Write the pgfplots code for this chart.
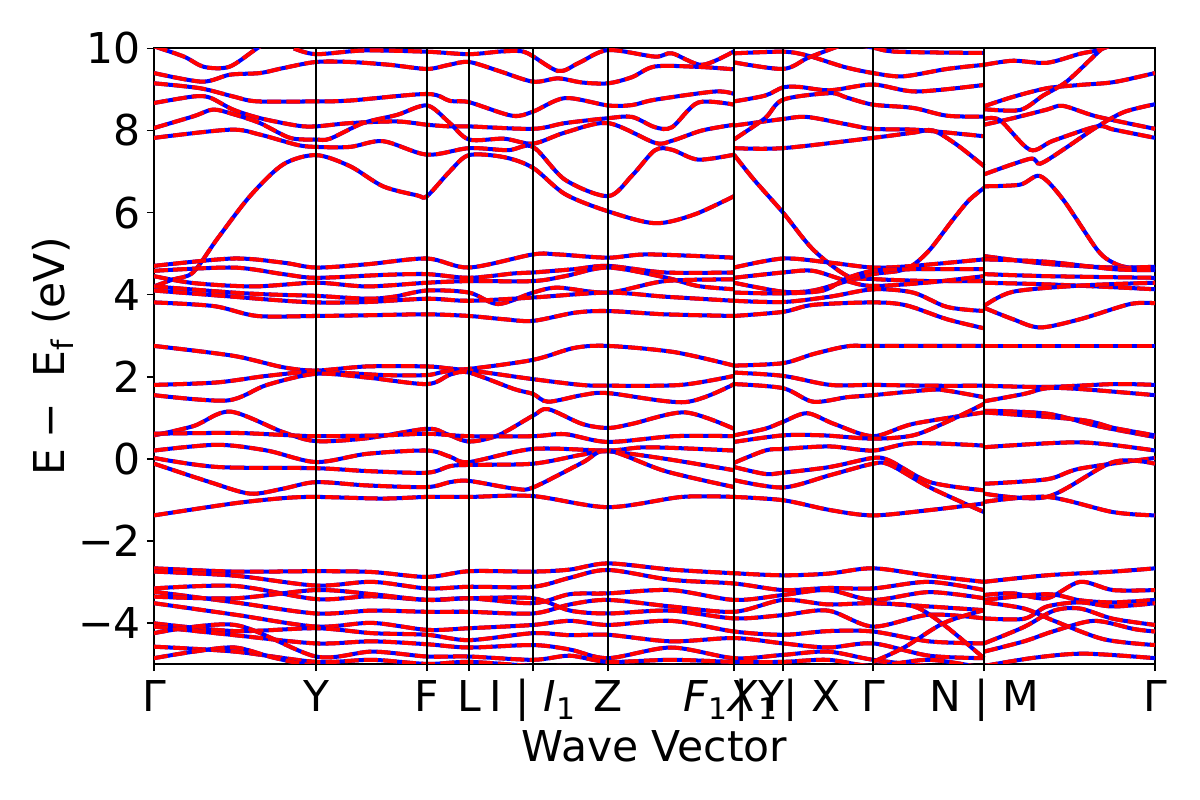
\documentclass[border=0pt]{standalone}
\usepackage{fontspec}
\setmainfont{DejaVu Sans}
\usepackage{pgfplots}
\pgfplotsset{compat=1.18}
\newcommand{\B}[1]{%
\addplot[blue, line width=1.45pt, smooth, tension=0.5] coordinates {#1};%
\addplot[red, line width=1.45pt, smooth, tension=0.5, dash pattern=on 5pt off 1.9pt] coordinates {#1};%
}
\begin{document}
\begin{tikzpicture}
\begin{axis}[
 scale only axis, width=360.4pt, height=221.6pt,
 xmin=0, xmax=1001, ymin=-5, ymax=10,
 xtick={0,162,273,315,379,454,580,629,719,830,1001},
 xticklabels={Γ, Y, F, L, I | \textit{I}\textsubscript{1}, Z,
   {\makebox[0pt][l]{\hspace*{-18.3pt}\textit{F}\textsubscript{1}\textit{X}\textsubscript{1}}\makebox[0pt][l]{\hspace*{0.3pt}|}},
   {\makebox[0pt][l]{\hspace*{-9pt}Y|\ X}}, Γ, N | M, Γ},
 ytick={-4,-2,0,2,4,6,8,10}, yticklabels={−4,−2,0,2,4,6,8,10},
 tick align=outside, xtick pos=bottom, ytick pos=left,
 major tick length=2.6pt, tick style={black, line width=0.6pt},
 axis line style={line width=0.7pt},
 ticklabel style={font=\fontsize{15.3}{18}\selectfont},
 xticklabel style={text height=11.2pt, text depth=3.5pt, inner ysep=3pt},
 yticklabel style={inner xsep=2pt},
 xlabel={Wave Vector}, ylabel={E\hspace{0.25em}−\hspace{0.6em}E\textsubscript{f} (eV)},
 every axis x label/.style={at={(axis description cs:0.5,-0.159)}, anchor=base, font=\fontsize{15.3}{18}\selectfont},
 every axis y label/.style={at={(axis description cs:-0.1009,0.5)}, rotate=90, anchor=center, font=\fontsize{15.3}{18}\selectfont},
 clip=true,
]
% ---------- chunk A : Gamma - Y - F - L - I|I1 - Z - F1 ----------
\B{(0,10.05) (30,9.80) (50,9.55) (75,9.55) (100,9.95) (115,10.2)}
\B{(140,10.0) (162,9.86) (210,9.95) (273,9.92) (315,9.86) (350,9.93) (372,9.90) (404,9.45) (425,9.65) (454,9.96) (501,9.80) (518,9.88) (548,9.60) (580,9.93)}
\B{(0,9.40) (48,9.19) (76,9.36) (106,9.40) (129,9.52) (162,9.67) (196,9.67) (236,9.60) (273,9.50) (295,9.60) (315,9.67) (345,9.45) (379,9.19) (404,9.27) (428,9.17) (454,9.15) (478,9.30) (501,9.56) (545,9.55) (580,9.49)}
\B{(0,9.15) (46,9.03) (79,8.83) (103,8.71) (162,8.71) (196,8.73) (273,8.89) (296,8.72) (315,8.69) (358,8.36) (379,8.46) (411,8.79) (454,8.61) (478,8.62) (501,8.75) (561,8.95) (580,8.89)}
\B{(0,8.67) (40,8.83) (56,8.80) (79,8.51) (106,8.30) (143,8.12) (162,8.10) (196,8.18) (243,8.22) (273,8.14) (296,8.10) (315,8.10) (379,8.04) (411,8.18) (454,8.30) (478,8.33) (501,8.08) (518,8.08) (544,8.68) (580,8.63)}
\B{(0,8.06) (40,8.35) (59,8.51) (79,8.40) (106,8.18) (136,7.82) (162,7.78) (176,7.80) (209,8.18) (243,8.38) (273,8.61) (295,8.20) (315,7.78) (350,7.80) (379,7.68) (411,7.95) (454,8.18) (501,7.70) (518,7.75) (548,8.0) (580,8.14)}
\B{(0,7.82) (76,8.02) (106,7.90) (143,7.65) (162,7.60) (196,7.60) (229,7.74) (273,7.41) (315,7.57) (354,7.52) (379,7.60) (411,6.80) (454,6.40) (478,6.90) (501,7.52) (518,7.53) (544,7.29) (580,7.41)}
\B{(0,4.20) (19,4.37) (39,4.54) (63,5.35) (96,6.40) (129,7.17) (162,7.40) (196,7.13) (229,6.64) (263,6.42) (273,6.40) (296,7.01) (315,7.40) (350,7.35) (379,7.09) (411,6.45) (454,6.03) (501,5.74) (540,5.95) (580,6.40)}
\B{(0,4.70) (79,4.88) (129,4.78) (162,4.66) (213,4.74) (273,4.88) (315,4.66) (379,4.98) (404,4.98) (454,4.90) (494,4.98) (580,4.90)}
\B{(0,4.58) (79,4.66) (129,4.50) (162,4.41) (229,4.48) (273,4.50) (315,4.41) (361,4.52) (379,4.54) (420,4.62) (454,4.70) (511,4.54) (580,4.54)}
\B{(0,4.45) (40,4.28) (100,4.20) (162,4.29) (213,4.20) (273,4.29) (315,4.33) (379,4.33) (411,4.45) (454,4.66) (511,4.42) (544,4.21) (580,4.13)}
\B{(0,4.20) (79,4.05) (120,4.00) (162,3.97) (213,3.90) (240,3.95) (273,4.10) (315,4.05) (344,3.77) (379,4.05) (404,4.17) (454,4.05) (511,4.33) (580,4.37)}
\B{(0,4.10) (79,3.95) (120,3.87) (162,3.81) (213,3.82) (273,3.90) (315,3.85) (379,3.93) (454,4.05) (511,3.95) (580,3.85)}
\B{(0,3.81) (60,3.72) (103,3.48) (162,3.48) (220,3.50) (273,3.52) (315,3.48) (350,3.40) (379,3.36) (421,3.56) (454,3.60) (511,3.52) (580,3.48)}
\B{(0,2.75) (79,2.51) (129,2.23) (162,2.15) (213,2.25) (273,2.25) (296,2.20) (315,2.19) (379,2.41) (420,2.70) (454,2.75) (520,2.60) (580,2.27)}
\B{(0,1.80) (63,1.86) (113,2.02) (162,2.12) (229,2.04) (273,2.04) (290,2.12) (315,2.15) (379,1.94) (427,1.80) (454,1.78) (527,1.80) (580,2.02)}
\B{(0,1.55) (73,1.42) (113,1.80) (162,2.07) (213,1.98) (273,1.82) (296,2.05) (315,2.10) (360,1.70) (379,1.58) (394,1.39) (428,1.55) (454,1.60) (531,1.38) (580,1.82)}
\B{(0,0.57) (40,0.80) (76,1.15) (129,0.65) (162,0.43) (213,0.50) (273,0.73) (293,0.60) (315,0.42) (344,0.57) (379,1.05) (394,1.21) (428,0.85) (454,0.75) (478,0.85) (531,1.13) (580,0.73)}
\B{(0,0.61) (79,0.63) (129,0.58) (162,0.55) (229,0.57) (273,0.61) (315,0.55) (379,0.55) (411,0.60) (454,0.41) (520,0.55) (580,0.55)}
\B{(0,0.20) (63,0.34) (113,0.20) (162,-0.08) (213,0.12) (273,0.20) (296,0.05) (315,-0.08) (379,0.24) (454,0.20) (494,0.28) (580,0.20)}
\B{(0,0.02) (63,-0.20) (162,-0.23) (213,-0.30) (273,-0.34) (296,-0.18) (315,-0.15) (379,-0.12) (428,0.10) (454,0.18) (511,0.0) (580,-0.28)}
\B{(0,-0.12) (56,-0.57) (96,-0.85) (129,-0.73) (162,-0.57) (213,-0.65) (273,-0.69) (296,-0.57) (315,-0.54) (361,-0.73) (379,-0.70) (428,-0.1) (454,0.20) (511,-0.3) (580,-0.69)}
\B{(0,-1.38) (79,-1.09) (129,-0.96) (162,-0.93) (229,-0.97) (273,-0.93) (315,-0.93) (379,-0.91) (454,-1.18) (528,-0.93) (580,-0.93)}
% ---------- chunk B : X1 - Y|X - Gamma - N ----------
\B{(580,9.88) (629,9.92) (653,9.83) (690,9.55) (719,9.40) (749,9.32) (793,9.50) (830,9.60)}
\B{(580,9.66) (629,9.50) (653,9.76) (673,9.95) (690,10.1)}
\B{(700,10.1) (719,10.02) (743,9.92) (830,9.89)}
\B{(580,8.71) (611,8.85) (629,9.05) (646,9.06) (676,8.98) (719,9.12) (762,8.95) (830,9.11)}
\B{(580,8.12) (629,8.28) (653,8.33) (693,8.15) (719,8.04) (760,8.02) (793,7.95) (830,7.86)}
\B{(580,7.78) (611,8.30) (629,8.75) (676,8.91) (693,8.80) (719,8.63) (759,8.55) (793,8.36) (830,8.34)}
\B{(580,7.57) (629,7.57) (719,7.82) (760,7.95) (779,8.0) (803,7.65) (830,7.13)}
\B{(580,7.41) (600,6.8) (629,6.0) (659,5.10) (693,4.46) (719,4.38) (776,4.33) (830,4.33)}
\B{(580,4.29) (629,4.07) (659,4.10) (693,4.33) (719,4.50) (745,4.58) (759,4.72) (776,5.10) (799,5.83) (815,6.3) (830,6.60)}
\B{(580,4.66) (629,4.88) (676,4.78) (719,4.66) (759,4.70) (830,4.86)}
\B{(580,4.41) (629,4.54) (659,4.58) (693,4.33) (719,4.21) (776,4.30) (830,4.45)}
\B{(580,4.05) (629,4.03) (669,4.10) (693,4.40) (719,4.58) (759,4.62) (830,4.62)}
\B{(580,3.85) (629,3.82) (676,3.95) (719,4.13) (759,4.05) (793,3.70) (830,3.60)}
\B{(580,3.48) (629,3.58) (659,3.75) (719,3.81) (752,3.74) (793,3.40) (830,3.18)}
\B{(580,2.27) (629,2.33) (659,2.55) (693,2.74) (719,2.75) (830,2.75)}
\B{(580,2.10) (629,2.02) (676,1.80) (719,1.80) (776,1.78) (830,1.78)}
\B{(580,1.82) (629,1.72) (659,1.39) (693,1.50) (719,1.55) (776,1.68) (793,1.66) (830,1.50)}
\B{(580,0.57) (611,0.73) (629,0.90) (653,1.11) (680,0.85) (719,0.55) (759,0.85) (830,1.13)}
\B{(580,0.41) (629,0.57) (669,0.57) (719,0.49) (759,0.57) (793,0.90) (830,1.34)}
\B{(580,-0.10) (611,0.20) (629,0.24) (676,0.30) (719,0.20) (759,0.38) (830,0.32)}
\B{(580,-0.20) (611,-0.37) (629,-0.34) (676,-0.20) (719,0.02) (736,-0.05) (776,-0.57) (830,-0.77)}
\B{(580,-0.52) (629,-0.70) (676,-0.40) (719,-0.12) (736,-0.15) (776,-0.70) (830,-1.30)}
\B{(580,-0.93) (629,-1.01) (676,-1.25) (719,-1.38) (776,-1.25) (830,-1.09)}
% ---------- chunk C : M - Gamma ----------
\B{(830,9.60) (859,9.70) (893,9.65) (926,9.87) (943,9.95) (960,10.1)}
\B{(830,8.59) (859,8.82) (893,9.03) (926,9.11) (960,9.18) (1001,9.40)}
\B{(830,8.52) (866,8.50) (889,8.85) (913,9.20) (946,9.95) (960,10.2)}
\B{(830,8.14) (859,8.30) (893,8.51) (909,8.60) (943,8.34) (1001,8.04)}
\B{(830,8.28) (846,8.25) (876,7.53) (899,7.75) (943,8.10) (960,8.02) (1001,7.82)}
\B{(830,6.93) (876,7.31) (886,7.19) (909,7.53) (943,8.09) (970,8.45) (1001,8.64)}
\B{(830,6.64) (866,6.68) (886,6.89) (909,6.32) (943,5.10) (959,4.78) (975,4.66) (1001,4.66)}
\B{(830,4.94) (893,4.75) (960,4.66) (1001,4.68)}
\B{(830,4.86) (893,4.80) (960,4.62) (1001,4.60)}
\B{(830,4.50) (893,4.45) (1001,4.41)}
\B{(830,4.29) (893,4.25) (960,4.18) (1001,4.13)}
\B{(830,3.72) (859,4.07) (926,4.22) (1001,4.29)}
\B{(830,3.68) (859,3.40) (886,3.20) (926,3.40) (976,3.77) (1001,3.79)}
\B{(830,2.75) (1001,2.75)}
\B{(830,1.78) (893,1.75) (960,1.82) (1001,1.80)}
\B{(830,1.40) (870,1.58) (893,1.72) (926,1.70) (1001,1.55)}
\B{(830,1.17) (893,1.10) (943,0.80) (1001,0.53)}
\B{(830,1.13) (926,0.95) (960,0.75) (1001,0.57)}
\B{(830,0.28) (926,0.40) (1001,0.20)}
\B{(830,-0.61) (893,-0.50) (926,-0.24) (1001,0.02)}
\B{(830,-0.85) (893,-0.93) (959,-0.08) (1001,-0.12)}
\B{(830,-1.05) (893,-0.93) (959,-1.30) (1001,-1.38)}
% ---------- lower manifold ----------
\B{(0,-2.67) (81,-2.75) (162,-2.74) (218,-2.76) (273,-2.88) (315,-2.74) (379,-2.75) (416,-2.70) (454,-2.55) (517,-2.70) (580,-2.79) (629,-2.84) (674,-2.80) (719,-2.67) (775,-2.85) (830,-3.00)}
\B{(0,-2.75) (81,-2.85) (162,-3.09) (218,-3.00) (273,-3.16) (315,-3.12) (379,-3.12) (416,-2.90) (454,-2.71) (517,-2.95) (580,-3.04) (629,-3.20) (674,-3.15) (719,-3.16) (775,-3.00) (830,-3.20)}
\B{(0,-3.16) (81,-3.10) (162,-3.42) (218,-3.35) (273,-3.44) (315,-3.40) (379,-3.52) (416,-3.30) (454,-3.28) (517,-3.20) (580,-3.44) (629,-3.32) (674,-3.20) (719,-3.44) (775,-3.25) (830,-3.40)}
\B{(0,-3.24) (81,-3.50) (162,-3.77) (218,-3.70) (273,-3.73) (315,-3.73) (379,-3.77) (416,-3.55) (454,-3.44) (517,-3.60) (580,-3.73) (629,-3.44) (674,-3.55) (719,-3.52) (775,-3.60) (830,-3.69)}
\B{(0,-3.36) (81,-3.40) (162,-3.20) (218,-3.30) (273,-3.44) (315,-3.40) (379,-3.40) (416,-3.70) (454,-3.77) (517,-3.70) (580,-3.89) (629,-3.81) (674,-3.70) (719,-4.09) (775,-3.80) (830,-3.89)}
\B{(0,-3.52) (81,-3.80) (162,-4.09) (218,-4.00) (273,-4.17) (315,-4.13) (379,-4.05) (416,-3.95) (454,-4.05) (517,-3.95) (580,-4.21) (629,-4.29) (674,-4.20) (719,-4.21) (775,-4.45) (830,-4.50)}
\B{(0,-4.01) (81,-4.20) (162,-4.13) (218,-4.25) (273,-4.29) (315,-4.42) (379,-4.25) (416,-4.30) (454,-4.29) (517,-4.45) (580,-4.37) (629,-4.50) (674,-4.60) (719,-4.50) (775,-4.80) (830,-4.86)}
\B{(0,-4.09) (81,-4.30) (162,-4.50) (218,-4.45) (273,-4.52) (315,-4.60) (379,-4.54) (416,-4.65) (454,-4.86) (517,-4.60) (580,-4.86) (629,-4.78) (674,-4.70) (719,-4.90) (775,-5.05) (830,-5.10)}
\B{(0,-4.25) (81,-4.05) (162,-4.82) (218,-4.70) (273,-4.82) (315,-4.82) (379,-4.90) (416,-4.80) (454,-4.95) (517,-4.90) (580,-4.95) (629,-4.95) (674,-4.90) (719,-5.05) (775,-4.90) (830,-5.10)}
\B{(0,-4.58) (81,-4.70) (162,-4.95) (218,-4.90) (273,-5.00) (315,-4.95) (379,-5.05) (416,-5.05) (454,-5.10) (517,-5.05) (580,-5.10) (629,-5.10) (674,-5.05) (719,-5.10) (775,-5.10) (830,-5.10)}
\B{(0,-4.86) (40,-4.70) (81,-4.60) (120,-4.85) (162,-5.05) (218,-5.10)}
\B{(719,-3.52) (760,-3.60) (790,-4.05) (830,-4.86)}
\B{(719,-4.95) (750,-4.60) (790,-4.00) (830,-3.69)}
\B{(830,-3.00) (893,-2.84) (959,-2.75) (1001,-2.67)}
\B{(830,-3.32) (859,-3.28) (893,-3.40) (926,-3.00) (959,-3.20) (1001,-3.20)}
\B{(830,-3.44) (893,-3.30) (926,-3.45) (959,-3.50) (1001,-3.44)}
\B{(830,-3.89) (870,-3.90) (893,-3.60) (926,-3.50) (959,-3.60) (1001,-3.52)}
\B{(830,-4.50) (870,-4.10) (900,-3.70) (926,-3.65) (959,-3.90) (1001,-4.05)}
\B{(830,-4.70) (870,-4.45) (900,-4.20) (940,-3.95) (980,-4.15) (1001,-4.21)}
\B{(830,-3.50) (870,-3.65) (900,-3.95) (950,-4.40) (1001,-4.54)}
\B{(830,-5.05) (880,-4.85) (930,-4.75) (1001,-4.86)}
% high-symmetry lines
\pgfplotsinvokeforeach{162,273,315,379,454,580,629,719,830}{%
 \draw[black, line width=0.75pt] (axis cs:#1,-5) -- (axis cs:#1,10);}
\coordinate (bbA) at (axis cs:-154,-8.31);
\coordinate (bbB) at (axis cs:1046,11.18);
\end{axis}
\path (bbA) rectangle (bbB);
\end{tikzpicture}
\end{document}
